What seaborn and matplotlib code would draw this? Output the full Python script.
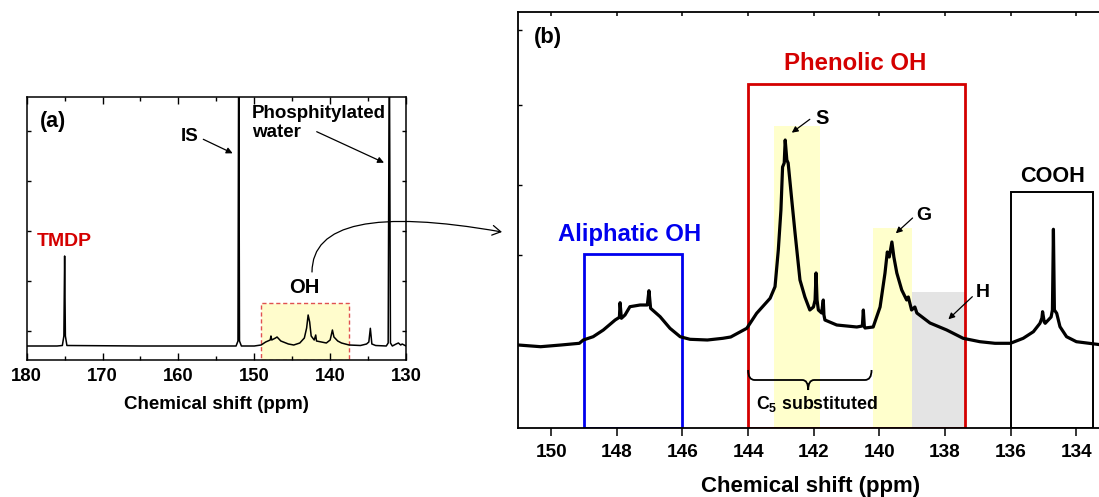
import numpy as np
import pandas as pd
import matplotlib
matplotlib.use("Agg")
import matplotlib.pyplot as plt
import seaborn as sns
from matplotlib.patches import Rectangle, FancyArrowPatch, PathPatch
from matplotlib.path import Path

# ---------------- data ----------------
# Panel (a): full 31P spectrum (ppm, intensity in arbitrary units)
a_ppm = [180.0, 176.0, 175.3, 175.1, 175.0, 174.9, 174.7, 165.0, 152.4, 152.15, 152.05,
         151.95, 151.7, 150.0, 149.1, 148.5, 147.9, 147.8, 147.7, 147.2, 147.0, 146.5,
         145.5, 144.8, 144.0, 143.4, 143.1, 142.9, 142.7, 142.5, 142.1, 141.9, 141.8,
         140.5, 140.0, 139.7, 139.5, 139.0, 138.5, 137.5, 136.0, 135.2, 134.9, 134.7,
         134.5, 134.0, 132.6, 132.35, 132.2, 132.05, 131.8, 131.3, 131.0, 130.7, 130.5, 130.0]
a_int = [0, 0, 0.5, 10, 90, 10, 0.5, 0, 0, 5, 320,
         5, 0, 0, 1, 4, 6, 10, 6, 8, 9, 5,
         2, 1, 3, 8, 18, 31, 24, 10, 6, 11, 5,
         3, 6, 16, 9, 5, 3, 1, 0.5, 2, 4, 17.7,
         2, 0.5, 0, 3, 320, 3, 0, 2, 3, 1, 2, 0]

# Panel (b): expanded hydroxyl region
b_ppm = [151.0, 150.32, 149.7, 149.14, 149.02, 148.72, 148.41, 148.05, 147.92, 147.9,
         147.86, 147.75, 147.6, 147.29, 147.07, 147.02, 146.97, 146.68, 146.38, 146.07,
         145.77, 145.24, 144.77, 144.53, 144.04, 143.74, 143.33, 143.18, 143.08, 143.0,
         142.95, 142.9, 142.87, 142.82, 142.78, 142.67, 142.57, 142.42, 142.27, 142.12,
         142.01, 141.96, 141.93, 141.9, 141.86, 141.76, 141.73, 141.71, 141.69, 141.66,
         141.3, 140.69, 140.52, 140.49, 140.46, 140.44, 140.19, 139.98, 139.83, 139.76,
         139.7, 139.62, 139.56, 139.47, 139.32, 139.17, 139.12, 139.02, 138.92, 138.86,
         138.46, 137.95, 137.45, 136.94, 136.48, 136.01, 135.62, 135.31, 135.11, 135.05,
         135.03, 134.98, 134.95, 134.77, 134.73, 134.70, 134.67, 134.6, 134.5, 134.3,
         134.0, 133.2]
b_int = [5, 3.3, 5, 6.7, 10, 13.3, 20, 30, 32.7, 47.3,
         31.7, 35, 43.3, 45, 45, 59.3, 41.7, 33.3, 21.7, 13.3,
         10.7, 10, 11.7, 13, 21.7, 36.7, 51.7, 63.3, 100, 140,
         183, 187, 210, 190, 187, 150, 117, 70, 53, 40,
         43, 50, 77, 50, 40, 37, 45, 50, 35, 30,
         25, 23, 24, 40, 24, 22, 23, 43, 77, 98,
         93, 108, 93, 77, 60, 50, 53, 40, 43, 37,
         27, 20, 11.7, 8.3, 6.7, 6.7, 11.7, 18.3, 26.7, 32,
         38.3, 28, 26.7, 33, 40, 120.7, 40, 36.7, 23.3, 13.3,
         8.3, 5]

a_ticks = [180, 170, 160, 150, 140, 130]
b_ticks = [150, 148, 146, 144, 142, 140, 138, 136, 134]

df_a = pd.DataFrame({"ppm": a_ppm, "intensity": a_int})
df_b = pd.DataFrame({"ppm": b_ppm, "intensity": b_int})

# ---------------- style ----------------
sns.set_style("ticks")
plt.rcParams["font.family"] = ["Liberation Sans", "DejaVu Sans"]
plt.rcParams["font.weight"] = "bold"
plt.rcParams["text.color"] = "black"
plt.rcParams["axes.labelcolor"] = "black"
plt.rcParams["axes.edgecolor"] = "black"
plt.rcParams["xtick.color"] = "black"
plt.rcParams["ytick.color"] = "black"
plt.rcParams["mathtext.fontset"] = "custom"
plt.rcParams["mathtext.rm"] = "Liberation Sans:bold"
plt.rcParams["mathtext.it"] = "Liberation Sans:bold"
plt.rcParams["mathtext.bf"] = "Liberation Sans:bold"

W, H = 1099, 497
fig = plt.figure(figsize=(W / 100, H / 100), dpi=100)

def frac(l, t, r, b):
    return [l / W, 1 - b / H, (r - l) / W, (b - t) / H]

RED = "#d40000"
BLUE = "#0000ee"
YEL = "#ffffcc"
GRAY = "#e4e4e4"

def box(ax, hi, lo, y0, y1, **kw):
    # ppm axis is reversed: anchor rectangles at the lower ppm value
    ax.add_patch(Rectangle((lo, y0), hi - lo, y1 - y0, **kw))

# ---------------- panel (a) ----------------
axa = fig.add_axes(frac(26.7, 97.3, 406, 360))
sns.lineplot(data=df_a, x="ppm", y="intensity", ax=axa, color="k", lw=1.1)
axa.set_xlim(180, 130)
axa.set_ylim(-14, 248.7)
box(axa, 149.1, 137.5, -14, 42.7, facecolor="#fffccc", edgecolor="#e05050",
    ls=(0, (3, 2)), lw=1.0, zorder=0.5)
axa.set_xticks(a_ticks)
axa.set_xticks([175, 165, 155, 145, 135], minor=True)
axa.set_yticks([15, 65, 115, 165, 215])
axa.set_yticklabels([])
axa.tick_params(axis="x", which="major", direction="in", length=5, width=1,
                labelsize=13.3, pad=6, top=True)
axa.tick_params(axis="x", which="minor", direction="in", length=3, width=1, top=True)
axa.tick_params(axis="y", direction="in", length=3, width=1, right=True)
for s in axa.spines.values():
    s.set_linewidth(1.1)
axa.set_ylabel("")
axa.set_xlabel("Chemical shift (ppm)", fontsize=13.5, fontweight="bold", labelpad=8)

axa.text(176.5, 224.3, "(a)", fontsize=15.5, fontweight="bold", ha="center", va="center")
axa.text(175.08, 104.3, "TMDP", fontsize=14, fontweight="bold", color=RED,
         ha="center", va="center")
axa.text(158.47, 209.3, "IS", fontsize=13.5, fontweight="bold", ha="center", va="center")
axa.annotate("", xy=(152.85, 192.7), xytext=(156.72, 206.7),
             arrowprops=dict(arrowstyle="-|>", lw=0.9, color="k", mutation_scale=9,
                             shrinkA=0, shrinkB=0))
axa.text(150.34, 232.7, "Phosphitylated", fontsize=13.5, fontweight="bold",
         ha="left", va="center")
axa.text(150.34, 213.7, "water", fontsize=13.5, fontweight="bold", ha="left", va="center")
axa.annotate("", xy=(132.9, 183.3), xytext=(141.77, 214.3),
             arrowprops=dict(arrowstyle="-|>", lw=0.9, color="k", mutation_scale=9,
                             shrinkA=0, shrinkB=0))
axa.text(143.41, 58.3, "OH", fontsize=14.5, fontweight="bold", ha="center", va="center")

# ---------------- panel (b) ----------------
axb = fig.add_axes(frac(518.3, 11.7, 1102, 427.7))
sns.lineplot(data=df_b, x="ppm", y="intensity", ax=axb, color="k", lw=2.3, zorder=3)
axb.set_xlim(151.0, 133.22)
axb.set_ylim(-77.7, 338.3)

# shaded regions
box(axb, 143.2, 141.8, -77.7, 224.3, facecolor=YEL, edgecolor="none", zorder=0.5)
box(axb, 140.2, 139.0, -77.7, 122, facecolor=YEL, edgecolor="none", zorder=0.5)
box(axb, 139.0, 137.4, -77.7, 58, facecolor=GRAY, edgecolor="none", zorder=0.5)
# boxes
box(axb, 149.0, 146.0, -77.7, 96, facecolor="none", edgecolor=BLUE, lw=2.0, zorder=2)
box(axb, 144.0, 137.4, -77.7, 265.7, facecolor="none", edgecolor=RED, lw=2.0, zorder=2)
box(axb, 136.0, 133.5, -77.7, 157.7, facecolor="none", edgecolor="k", lw=1.4, zorder=2)

axb.set_xticks(b_ticks)
axb.set_yticks([95, 165, 245, 320])
axb.set_yticklabels([])
axb.tick_params(axis="x", which="major", direction="out", length=6, width=1.1,
                labelsize=13.7, pad=5.5, top=True)
axb.tick_params(axis="y", direction="in", length=3, width=1)
for s in axb.spines.values():
    s.set_linewidth(1.3)
axb.set_ylabel("")
axb.set_xlabel("Chemical shift (ppm)", fontsize=16, fontweight="bold", labelpad=11)
# top ticks inward
for t in axb.xaxis.get_major_ticks():
    t.tick2line.set_marker(3)
    t.tick2line.set_markersize(3)

axb.text(150.1, 313, "(b)", fontsize=15.8, fontweight="bold", ha="center", va="center")
axb.text(140.75, 287, "Phenolic OH", fontsize=17.3, fontweight="bold", color=RED,
         ha="center", va="center")
axb.text(147.6, 116, "Aliphatic OH", fontsize=17.2, fontweight="bold", color=BLUE,
         ha="center", va="center")
axb.text(134.73, 173, "COOH", fontsize=15.6, fontweight="bold", ha="center", va="center")

axb.text(141.76, 232, "S", fontsize=14.4, fontweight="bold", ha="center", va="center")
axb.annotate("", xy=(142.67, 217.3), xytext=(142.12, 230.7),
             arrowprops=dict(arrowstyle="-|>", lw=0.9, color="k", mutation_scale=9,
                             shrinkA=0, shrinkB=0))
axb.text(138.64, 134, "G", fontsize=14, fontweight="bold", ha="center", va="center")
axb.annotate("", xy=(139.5, 116.7), xytext=(138.99, 132),
             arrowprops=dict(arrowstyle="-|>", lw=0.9, color="k", mutation_scale=9,
                             shrinkA=0, shrinkB=0))
axb.text(136.84, 57.3, "H", fontsize=14, fontweight="bold", ha="center", va="center",
         zorder=5)
axb.annotate("", xy=(137.9, 30.7), xytext=(137.17, 53.3),
             arrowprops=dict(arrowstyle="-|>", lw=0.9, color="k", mutation_scale=9,
                             shrinkA=0, shrinkB=0))

# curly brace for C5 substituted
verts = [(144.0, -20), (144.0, -30), (143.8, -30),
         (142.35, -30), (142.17, -30), (142.17, -40),
         (142.17, -30), (141.99, -30),
         (140.44, -30), (140.24, -30), (140.24, -20)]
codes = [Path.MOVETO, Path.CURVE3, Path.CURVE3,
         Path.LINETO, Path.CURVE3, Path.CURVE3,
         Path.CURVE3, Path.CURVE3,
         Path.LINETO, Path.CURVE3, Path.CURVE3]
axb.add_patch(PathPatch(Path(verts, codes), facecolor="none", edgecolor="k", lw=1.3,
                        zorder=4))
axb.text(141.91, -54.3, "C$_5$ substituted", fontsize=12.8, fontweight="bold",
         ha="center", va="center")

# ---------------- connecting curved arrow ----------------
def fpt(x, y):
    return (x / W, 1 - y / H)

arr = FancyArrowPatch(fpt(312, 272), fpt(502, 232), transform=fig.transFigure,
                      connectionstyle="angle3,angleA=90,angleB=-10",
                      arrowstyle="->,head_length=6,head_width=3.5", lw=0.9,
                      color="k", shrinkA=0, shrinkB=0)
fig.patches.append(arr)

fig.savefig("out.png", dpi=100)
